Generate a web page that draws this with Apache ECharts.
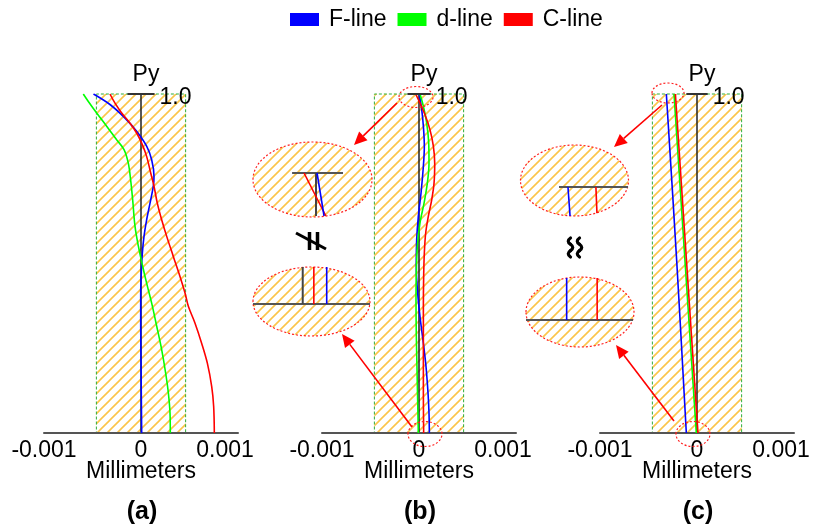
<!DOCTYPE html>
<html><head><meta charset="utf-8">
<script src="https://cdn.jsdelivr.net/npm/echarts@6/dist/echarts.min.js"></script>
<style>html,body{margin:0;padding:0;background:#fff}#c{width:822px;height:530px}</style>
</head><body><div id="c"></div>
<script>
// ---------- data ----------
const seriesNames = ['F-line', 'd-line', 'C-line'];
const panelLabels = ['(a)', '(b)', '(c)'];
const xTicks = [-0.001, 0, 0.001];
const tolerance = [-0.00046, 0.00046];

// panel (a)
const aF_x = [-0.00049, -0.00032, -0.000165, -0.000045, 0.000058, 0.00011, 0.000134, 0.000127, 0.000093, 0.000058, 0.000031, 0.000014, 0.000003, -0.000003, -0.000003, 0, 0.000003, 0.000007];
const aF_py = [1, 0.969, 0.929, 0.89, 0.846, 0.806, 0.757, 0.728, 0.678, 0.629, 0.58, 0.531, 0.472, 0.413, 0.315, 0.216, 0.118, 0];
const aD_x = [-0.000595, -0.000543, -0.000457, -0.000354, -0.000251, -0.000175, -0.000131, -0.000107, -0.000086, -0.000062, -0.000027, 0.000017, 0.000058, 0.00011, 0.000162, 0.000213, 0.000254, 0.000282, 0.000299, 0.000302];
const aD_py = [1, 0.978, 0.944, 0.905, 0.865, 0.836, 0.796, 0.747, 0.688, 0.61, 0.551, 0.492, 0.442, 0.383, 0.315, 0.246, 0.177, 0.118, 0.059, 0];
const aC_x = [-0.00032, -0.000268, -0.000199, -0.000113, -0.000045, 0.000007, 0.000058, 0.0001, 0.000134, 0.000168, 0.000213, 0.000265, 0.000333, 0.000402, 0.000454, 0.000488, 0.000557, 0.000625, 0.000684, 0.000729, 0.000749, 0.000756];
const aC_py = [1, 0.973, 0.944, 0.914, 0.885, 0.855, 0.816, 0.767, 0.728, 0.678, 0.629, 0.58, 0.521, 0.462, 0.413, 0.374, 0.324, 0.265, 0.206, 0.137, 0.079, 0];

// panel (b)
const bF_x = [0.000003, 0.000028, 0.000045, 0.000055, 0.000045, 0.000021, -0.000007, -0.000024, -0.000028, -0.000014, 0.00001, 0.000045, 0.000072, 0.000093, 0.000103, 0.000107];
const bF_py = [1, 0.954, 0.905, 0.846, 0.787, 0.708, 0.639, 0.57, 0.492, 0.413, 0.344, 0.265, 0.197, 0.118, 0.059, 0];
const bD_x = [0.00001, 0.000045, 0.000079, 0.0001, 0.000103, 0.000086, 0.000052, 0.00001, -0.000017, -0.000028, -0.000031, -0.000028, -0.000021, -0.000014, -0.000007];
const bD_py = [1, 0.964, 0.915, 0.855, 0.796, 0.737, 0.678, 0.619, 0.551, 0.472, 0.393, 0.295, 0.197, 0.098, 0];
const bC_x = [-0.000034, 0.00001, 0.000062, 0.000113, 0.000148, 0.000162, 0.000155, 0.000131, 0.000096, 0.000069, 0.000055, 0.000048, 0.000045, 0.000045, 0.000045, 0.000048];
const bC_py = [1, 0.973, 0.939, 0.895, 0.846, 0.796, 0.737, 0.688, 0.639, 0.59, 0.531, 0.462, 0.364, 0.265, 0.118, 0];

// panel (c)
const cF_x = [-0.000316, -0.00021, -0.00011];
const cF_py = [1, 0.511, 0];
const cD_x = [-0.000237, -0.000007];
const cD_py = [1, 0];
const cC_x = [-0.000223, 0.00001];
const cC_py = [1, 0];

// magnified inset views (relative units)
const insetBTop = { axis: [[-0.92, 1], [1.04, 1]], zero: [[0, 0], [0, 1]], F: [[0.04, 1], [0.31, 0]], C: [[-0.46, 1], [0.38, 0]] };
const insetBBot = { axis: [[-1, 0], [1, 0]], zero: [[-0.15, 0], [-0.15, 1]], C: [[0.04, 0], [0.04, 1]], F: [[0.26, 0], [0.26, 1]] };
const insetCTop = { axis: [[-1, 1], [1, 1]], F: [[-0.74, 1], [-0.68, 0]], C: [[0.07, 1], [0.1, 0.1]] };
const insetCBot = { axis: [[-1, 0], [1, 0]], F: [[-0.24, 0], [-0.24, 1]], C: [[0.33, 0], [0.33, 1]] };

// ---------- styling / layout ----------
const FONT = '"Liberation Sans", Arial, sans-serif';
const FS = 23;
const COLORS = { 'F-line': '#0000ff', 'd-line': '#00ff00', 'C-line': '#ff0000' };
const zeroX = [141, 419, 697];
const halfW = 97, plotTop = 94, plotH = 339;

function zip(xs, ys) { return xs.map((x, i) => [x, ys[i]]); }

const hatch = document.createElement('canvas');
hatch.width = 10; hatch.height = 10;
(function () {
  const g = hatch.getContext('2d');
  g.strokeStyle = '#fbc54a'; g.lineWidth = 1.6;
  g.beginPath();
  g.moveTo(-1, 11); g.lineTo(11, -1);
  g.moveTo(-6, 6); g.lineTo(6, -6);
  g.moveTo(4, 16); g.lineTo(16, 4);
  g.stroke();
})();
const hatchFill = { image: hatch, repeat: 'repeat' };

const panels = [
  { F: zip(aF_x, aF_py), D: zip(aD_x, aD_py), C: zip(aC_x, aC_py), tick: 0.00014 },
  { F: zip(bF_x, bF_py), D: zip(bD_x, bD_py), C: zip(bC_x, bC_py), tick: 0.00012 },
  { F: zip(cF_x, cF_py), D: zip(cD_x, cD_py), C: zip(cC_x, cC_py), tick: 0.00011 }
];

const grid = [], xAxis = [], yAxis = [], series = [];
panels.forEach((p, i) => {
  grid.push({ left: zeroX[i] - halfW, top: plotTop, width: halfW * 2, height: plotH });
  xAxis.push({
    type: 'value', gridIndex: i, min: xTicks[0], max: xTicks[2], interval: 0.001, z: 6,
    axisLine: { onZero: false, lineStyle: { color: '#555', width: 2 } },
    axisTick: { show: false }, splitLine: { show: false },
    axisLabel: {
      fontSize: FS, color: '#000', fontFamily: FONT, margin: 6,
      formatter: v => v > 0 ? '{r|0.001}' : (v < 0 ? '-0.001' : '0'),
      rich: { r: { fontSize: FS, color: '#000', fontFamily: FONT, padding: [0, 26, 0, 0] } }
    },
    name: 'Millimeters', nameLocation: 'middle', nameGap: 27, nameMoveOverlap: false,
    nameTextStyle: { fontSize: FS, color: '#000', fontFamily: FONT }
  });
  yAxis.push({
    type: 'value', gridIndex: i, min: 0, max: 1, z: 6,
    axisLine: { show: true, onZero: true, lineStyle: { color: '#222', width: 1.5 } },
    axisTick: { show: false }, axisLabel: { show: false }, splitLine: { show: false },
    name: 'Py', nameLocation: 'end', nameGap: 19, nameMoveOverlap: false,
    nameTextStyle: { fontSize: FS, color: '#000', fontFamily: FONT, align: 'center', verticalAlign: 'middle', padding: [0, 0, 0, 10] }
  });
  [['F-line', p.F], ['d-line', p.D], ['C-line', p.C]].forEach(([name, data], k) => {
    const s = {
      type: 'line', name, xAxisIndex: i, yAxisIndex: i, data,
      smooth: 0.35, showSymbol: false, symbol: 'none', silent: true,
      lineStyle: { color: COLORS[name], width: 1.6 }, itemStyle: { color: COLORS[name] }, z: 8
    };
    if (k === 0) {
      s.markArea = {
        silent: true, z: 1,
        itemStyle: { color: hatchFill, borderColor: '#2fae3a', borderWidth: 1, borderType: [3, 2] },
        data: [[{ coord: [tolerance[0], 0] }, { coord: [tolerance[1], 1] }]]
      };
    }
    series.push(s);
  });
  series.push({
    type: 'line', xAxisIndex: i, yAxisIndex: i, silent: true, symbol: 'none', z: 9,
    lineStyle: { color: '#333', width: 2 },
    data: [[-p.tick, 1], [p.tick, 1]],
    endLabel: { show: true, formatter: '1.0', distance: 5, offset: [0, 4], fontSize: FS, color: '#000', fontFamily: FONT }
  });
});

// inset grids
const insets = [
  { box: { left: 290, top: 173, width: 52, height: 43 }, d: insetBTop },
  { box: { left: 253, top: 267, width: 117, height: 37 }, d: insetBBot },
  { box: { left: 559, top: 187, width: 69, height: 29 }, d: insetCTop },
  { box: { left: 526, top: 278, width: 107, height: 42 }, d: insetCBot }
];
insets.forEach((ins, j) => {
  const gi = 3 + j;
  grid.push(ins.box);
  xAxis.push({ type: 'value', gridIndex: gi, min: -1, max: 1, show: false });
  yAxis.push({ type: 'value', gridIndex: gi, min: 0, max: 1, show: false });
  const add = (data, color, width) => series.push({
    type: 'line', xAxisIndex: gi, yAxisIndex: gi, data, symbol: 'none', silent: true, z: 8,
    lineStyle: { color, width }
  });
  add(ins.d.axis, '#555', 2);
  if (ins.d.zero) add(ins.d.zero, '#444', 2);
  add(ins.d.C, '#ff0000', 1.6);
  add(ins.d.F, '#0000ff', 1.6);
});

// annotations
const graphics = [];
function ellipse(cx, cy, rx, ry, filled) {
  graphics.push({
    type: 'ellipse', shape: { cx, cy, rx, ry }, z: filled ? 1 : 20, silent: true,
    style: { fill: filled ? hatchFill : 'transparent', stroke: '#ff2020', lineWidth: 1.2, lineDash: [2, 2] }
  });
}
function arrow(x1, y1, x2, y2) {
  const dx = x2 - x1, dy = y2 - y1, L = Math.hypot(dx, dy), ux = dx / L, uy = dy / L;
  const hl = 13, hw = 6, bx = x2 - ux * hl, by = y2 - uy * hl;
  graphics.push({ type: 'line', shape: { x1, y1, x2: bx, y2: by }, style: { stroke: '#ff0000', lineWidth: 1.6 }, z: 20, silent: true });
  graphics.push({ type: 'polygon', shape: { points: [[x2, y2], [bx - uy * hw, by + ux * hw], [bx + uy * hw, by - ux * hw]] }, style: { fill: '#ff0000' }, z: 20, silent: true });
}
// big insets (hatched)
ellipse(312.5, 179.5, 59.5, 37.5, true);
ellipse(311.5, 301.5, 58.5, 34.5, true);
ellipse(574.5, 180.5, 54, 35.5, true);
ellipse(580, 312, 54, 35, true);
// small markers
ellipse(416, 97, 17, 10.5, false);
ellipse(425, 434, 17, 12.5, false);
ellipse(668, 93, 16, 10, false);
ellipse(693, 434, 17, 12.5, false);
arrow(397, 103, 354, 145);
arrow(412, 427, 342, 334);
arrow(662, 105, 614, 147);
arrow(674, 421, 616, 345);
// "not parallel" symbol
graphics.push({ type: 'line', shape: { x1: 309.5, y1: 232, x2: 309.5, y2: 250 }, style: { stroke: '#000', lineWidth: 3.5 }, z: 20 });
graphics.push({ type: 'line', shape: { x1: 317.5, y1: 232, x2: 317.5, y2: 250 }, style: { stroke: '#000', lineWidth: 3.5 }, z: 20 });
graphics.push({ type: 'line', shape: { x1: 296, y1: 233, x2: 326, y2: 249 }, style: { stroke: '#000', lineWidth: 3 }, z: 20 });
// "approximately parallel" symbol (two wavy strokes)
[570.5, 579.5].forEach(x0 => {
  const ys = [238, 244.3, 250.6, 257], dx = [-4.5, 4.5, -4.5];
  for (let k = 0; k < 3; k++) {
    graphics.push({
      type: 'bezierCurve', z: 20, silent: true,
      shape: { x1: x0, y1: ys[k], x2: x0, y2: ys[k + 1], cpx1: x0 + dx[k], cpy1: (ys[k] + ys[k + 1]) / 2 },
      style: { fill: null, stroke: '#000', lineWidth: 3.2, lineCap: 'round' }
    });
  }
});
// panel labels
panelLabels.forEach((t, i) => graphics.push({
  type: 'text', x: zeroX[i] + 1, y: 512, z: 20,
  style: { text: t, font: 'bold 25px ' + FONT, fill: '#000', align: 'center', verticalAlign: 'middle' }
}));

const chart = echarts.init(document.getElementById('c'), null, { renderer: 'canvas' });
chart.setOption({
  animation: false,
  backgroundColor: '#fff',
  legend: {
    data: seriesNames, left: 290, top: 8, padding: 0, itemGap: 11,
    icon: 'rect', itemWidth: 29, itemHeight: 13,
    textStyle: { fontSize: FS, color: '#000', fontFamily: FONT, padding: [0, 0, 0, 5] }
  },
  grid, xAxis, yAxis, series,
  graphic: graphics
});
</script></body></html>
